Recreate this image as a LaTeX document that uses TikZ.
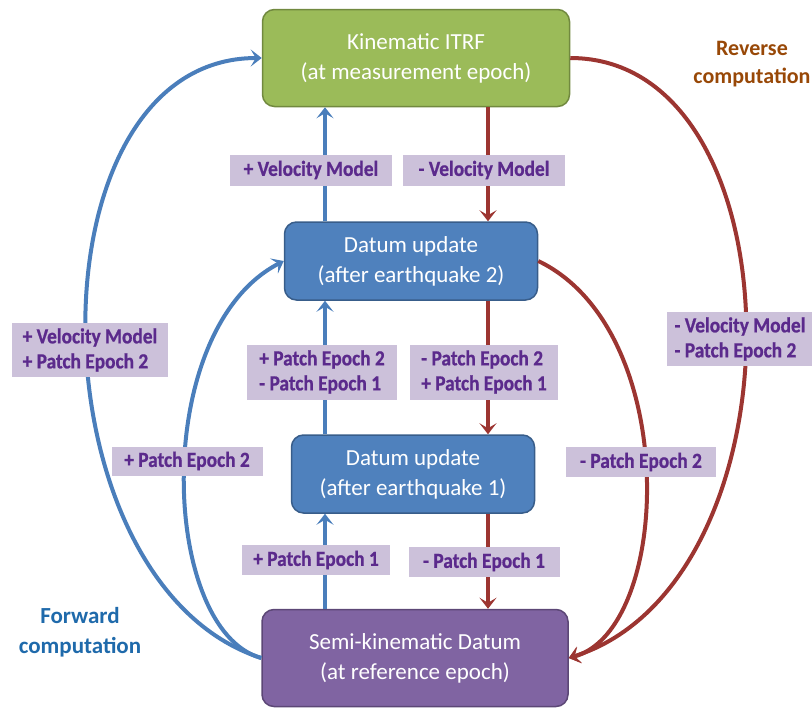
\documentclass[tikz,border=0pt]{standalone}
\usepackage{fontspec}
\setmainfont{Carlito}
\newfontfamily\patchfont[FakeStretch=0.9, FakeBold=0.8]{Carlito}
\usetikzlibrary{shapes.geometric, arrows.meta}

\definecolor{itrfgreen}{HTML}{9BBB59}
\definecolor{itrfline}{HTML}{71893F}
\definecolor{updblue}{HTML}{4F81BD}
\definecolor{updline}{HTML}{385D8A}
\definecolor{semipurple}{HTML}{8064A2}
\definecolor{semiline}{HTML}{5C4776}
\definecolor{fwdblue}{HTML}{4A7EBB}
\definecolor{revred}{HTML}{9C3531}
\definecolor{patchfill}{HTML}{CCC1DA}
\definecolor{patchtext}{HTML}{5B2A8C}
\definecolor{fwdtext}{HTML}{1F6AAB}
\definecolor{revtext}{HTML}{984807}

\tikzstyle{datum} = [
    rectangle,
    rounded corners=12pt,
    line width=1.5pt,
    text=white,
    align=center,
    font=\fontsize{23}{30}\selectfont
]
\tikzstyle{patch} = [
    rectangle,
    fill=patchfill,
    text=patchtext,
    align=left,
    inner sep=0pt,
    font=\patchfont\fontsize{21.5}{25}\selectfont\bfseries
]
\tikzstyle{fwd} = [line width=4pt, draw=fwdblue, -{Stealth[length=11pt, width=17pt, inset=5pt]}]
\tikzstyle{rev} = [line width=4pt, draw=revred, -{Stealth[length=11pt, width=17pt, inset=5pt]}]

\begin{document}
\begin{tikzpicture}[x=1pt, y=-1pt]
\useasboundingbox (0,0) rectangle (812,710);

\node (itrf) [datum, fill=itrfgreen, draw=itrfline, minimum width=307pt, minimum height=97pt]
at (416,58) {Kinematic ITRF\\(at measurement epoch)};

\node (upd2) [datum, fill=updblue, draw=updline, minimum width=253pt, minimum height=78pt]
at (411,261) {Datum update\\(after earthquake 2)};

\node (upd1) [datum, fill=updblue, draw=updline, minimum width=243pt, minimum height=78pt]
at (413,474) {Datum update\\(after earthquake 1)};

\node (semi) [datum, fill=semipurple, draw=semiline, minimum width=306pt, minimum height=97pt]
at (415,658) {Semi-kinematic Datum\\(at reference epoch)};

\coordinate (bx) at (325,0);
\coordinate (rx) at (488,0);

\draw [fwd] (semi.north -| bx) -- (upd1.south -| bx);
\draw [fwd] (upd1.north -| bx) -- (upd2.south -| bx);
\draw [fwd] (upd2.north -| bx) -- (itrf.south -| bx);
\draw [fwd] (semi.west) .. controls (30,583) and (25,58) .. (itrf.west);
\draw [fwd] (semi.west) .. controls (160,630) and (150,330) .. (upd2.west);

\draw [rev] (itrf.south -| rx) -- (upd2.north -| rx);
\draw [rev] (upd2.south -| rx) -- (upd1.north -| rx);
\draw [rev] (upd1.south -| rx) -- (semi.north -| rx);
\draw [rev] (itrf.east) .. controls (802,58) and (807,583) .. (semi.east);
\draw [rev] (upd2.east) .. controls (682,330) and (672,630) .. (semi.east);

\node (velup) [patch, minimum width=162pt, minimum height=31pt] at (311,170) {+ Velocity Model};
\node (veldown) [patch, minimum width=162pt, minimum height=31pt] at (484,170) {- Velocity Model};
\node (pe21up) [patch, minimum width=150pt, minimum height=55pt] at (322,372) {+ Patch Epoch 2\\- Patch Epoch 1};
\node (pe21down) [patch, minimum width=148pt, minimum height=55pt] at (484,372) {- Patch Epoch 2\\+ Patch Epoch 1};
\node (pe1up) [patch, minimum width=148pt, minimum height=30pt] at (316,560) {+ Patch Epoch 1};
\node (pe1down) [patch, minimum width=151pt, minimum height=30pt] at (484,562) {- Patch Epoch 1};
\node (fwdouter) [patch, minimum width=156pt, minimum height=54pt] at (90,350) {+ Velocity Model\\+ Patch Epoch 2};
\node (fwdinner) [patch, minimum width=151pt, minimum height=29pt] at (187,461) {+ Patch Epoch 2};
\node (revouter) [patch, minimum width=146pt, minimum height=54pt] at (740,339) {- Velocity Model\\- Patch Epoch 2};
\node (revinner) [patch, minimum width=150pt, minimum height=30pt] at (641,462) {- Patch Epoch 2};

\node (fwdtitle) [text=fwdtext, align=center, font=\fontsize{23}{30}\selectfont\bfseries]
at (80,632) {Forward\\computation};
\node (revtitle) [text=revtext, align=center, font=\fontsize{22}{28}\selectfont\bfseries]
at (752,64) {Reverse\\computation};

\end{tikzpicture}
\end{document}
